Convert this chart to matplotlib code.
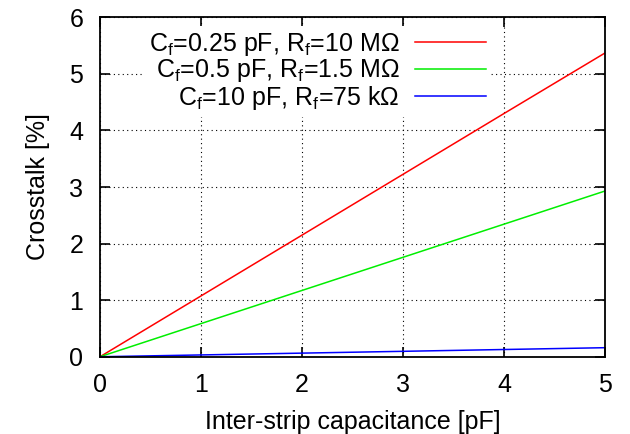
import numpy as np
import matplotlib
matplotlib.use('Agg')
import matplotlib.pyplot as plt

plt.rcParams['font.family'] = ['Liberation Sans', 'DejaVu Sans']
plt.rcParams['mathtext.fontset'] = 'custom'
plt.rcParams['mathtext.rm'] = 'Liberation Sans'
plt.rcParams['font.size'] = 18

# data (straight lines through the origin)
cap = [0, 1, 2, 3, 4, 5]
xt_025 = [0, 1.075, 2.15, 3.225, 4.30, 5.37]
xt_05 = [0, 0.586, 1.172, 1.758, 2.344, 2.93]
xt_10 = [0, 0.032, 0.064, 0.096, 0.128, 0.16]

labels = [r'C$_\mathrm{f}$=0.25 pF, R$_\mathrm{f}$=10 M$\Omega$',
          r'C$_\mathrm{f}$=0.5 pF, R$_\mathrm{f}$=1.5 M$\Omega$',
          r'C$_\mathrm{f}$=10 pF, R$_\mathrm{f}$=75 k$\Omega$']
colors = ['#ff0000', '#00ee00', '#0000ff']

fig = plt.figure(figsize=(6.3, 4.34), dpi=100)
ax = fig.add_axes([0.1587, 0.178, 0.8016, 0.782])

for y, lab, c in zip([xt_025, xt_05, xt_10], labels, colors):
    ax.plot(cap, y, color=c, lw=1.1, label=lab)

ax.set_xlim(0, 5)
ax.set_ylim(0, 6)
ax.set_xticks(range(6))
ax.set_yticks(range(7))
ax.grid(True, color='black', linestyle=(0, (1, 3)), linewidth=0.8)
ax.tick_params(direction='in', length=7, width=1.2, top=True, right=True)
ax.tick_params(axis='y', pad=12)
ax.tick_params(axis='x', pad=12)
for s in ax.spines.values():
    s.set_linewidth(1.3)

ax.set_xlabel('Inter-strip capacitance [pF]', labelpad=9)
ax.set_ylabel('Crosstalk [%]', labelpad=14)

leg = ax.legend(loc='upper right', bbox_to_anchor=(0.774, 0.975),
                markerfirst=False, frameon=True, fancybox=False,
                edgecolor='none', facecolor='white', framealpha=1,
                borderaxespad=0, borderpad=0.2, handlelength=2.84,
                handletextpad=0.6, labelspacing=-0.02)
for col in leg._legend_handle_box.get_children():
    col.align = 'right'

plt.savefig('out.png', dpi=100)
